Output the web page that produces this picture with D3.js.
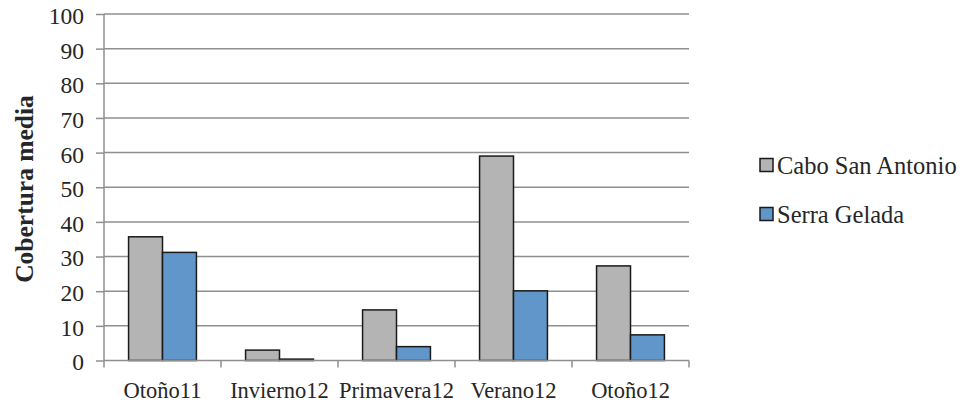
<!DOCTYPE html>
<html>
<head>
<meta charset="utf-8">
<script src="https://cdn.jsdelivr.net/npm/d3@7/dist/d3.min.js"></script>
<style>
  html, body { margin: 0; padding: 0; background: #fff; }
  svg { display: block; }
</style>
</head>
<body>
<svg id="chart" width="972" height="405"></svg>
<script>
// Seasonal sampling periods
const categories = ["Otoño11", "Invierno12", "Primavera12", "Verano12", "Otoño12"];
const seriesNames = ["Cabo San Antonio", "Serra Gelada"];
// Mean cover per period for each site
const caboSanAntonio = [35.7, 3.0, 14.6, 59.0, 27.3];
const serraGelada = [31.2, 0.4, 4.0, 20.1, 7.4];
const yTicks = [0, 10, 20, 30, 40, 50, 60, 70, 80, 90, 100];
const yTitle = "Cobertura media";

const seriesValues = [caboSanAntonio, serraGelada];
const colors = ["#b4b4b4", "#6196ca"];
const FONT = "'Liberation Serif', 'Times New Roman', 'DejaVu Serif', serif";
const TEXT_COLOR = "#262626";

const svg = d3.select("#chart");
const margin = { left: 104, right: 283, top: 14, bottom: 44.5 };
const W = 972, H = 405;
const plotW = W - margin.left - margin.right;
const plotH = H - margin.top - margin.bottom;

const g = svg.append("g").attr("transform", `translate(${margin.left},${margin.top})`);

const x = d3.scaleBand().domain(categories).range([0, plotW])
  .paddingInner(0.42).paddingOuter(0.21);
const xs = d3.scaleBand().domain(seriesNames).range([0, x.bandwidth()]);
const y = d3.scaleLinear().domain([0, 100]).range([plotH, 0]);

// horizontal gridlines
g.append("g").selectAll("line").data(yTicks.filter(d => d > 0)).join("line")
  .attr("x1", 0).attr("x2", plotW)
  .attr("y1", d => y(d)).attr("y2", d => y(d))
  .attr("stroke", "#8f8f8f").attr("stroke-width", 1.5);

// y axis
const yAxis = g.append("g").call(d3.axisLeft(y).tickValues(yTicks).tickSize(8).tickPadding(12));
yAxis.attr("font-family", null).attr("font-size", null);
yAxis.select(".domain").attr("stroke", "#8f8f8f").attr("stroke-width", 1.5).attr("d", `M0,${plotH}V0`);
yAxis.selectAll(".tick line").attr("stroke", "#8f8f8f").attr("stroke-width", 1.5);
yAxis.selectAll(".tick text")
  .attr("dy", "0.4em")
  .style("font-family", FONT).style("font-size", "23.5px").attr("fill", TEXT_COLOR);

// bars
const groups = g.append("g").selectAll("g").data(categories).join("g")
  .attr("transform", d => `translate(${x(d)},0)`);
groups.selectAll("rect")
  .data((c, i) => seriesNames.map((s, k) => ({ s, k, v: seriesValues[k][i] })))
  .join("rect")
  .attr("x", d => xs(d.s))
  .attr("width", xs.bandwidth())
  .attr("y", d => y(d.v))
  .attr("height", d => plotH - y(d.v))
  .attr("fill", d => colors[d.k])
  .attr("stroke", "#1a1a1a").attr("stroke-width", 1.5);

// x axis with ticks at category boundaries
const xAxisG = g.append("g").attr("transform", `translate(0,${plotH})`);
xAxisG.append("line").attr("x1", 0).attr("x2", plotW).attr("y1", 0).attr("y2", 0)
  .attr("stroke", "#8f8f8f").attr("stroke-width", 1.5);
const step = x.step();
xAxisG.selectAll("line.bt").data(d3.range(categories.length + 1)).join("line")
  .attr("class", "bt")
  .attr("x1", i => i * step).attr("x2", i => i * step)
  .attr("y1", 0).attr("y2", 7)
  .attr("stroke", "#8f8f8f").attr("stroke-width", 1.5);
xAxisG.selectAll("text").data(categories).join("text")
  .attr("x", d => x(d) + x.bandwidth() / 2)
  .attr("y", 37.5)
  .attr("text-anchor", "middle")
  .attr("fill", TEXT_COLOR)
  .style("font-family", FONT).style("font-size", "22.5px")
  .text(d => d);

// y axis title
svg.append("text")
  .attr("transform", `translate(33,189) rotate(-90)`)
  .attr("text-anchor", "middle")
  .attr("fill", TEXT_COLOR)
  .style("font-family", FONT).style("font-size", "25.5px").style("font-weight", "bold")
  .text(yTitle);

// legend
const legend = svg.append("g").attr("transform", "translate(760,158.5)");
const li = legend.selectAll("g").data(seriesNames).join("g")
  .attr("transform", (d, i) => `translate(0,${i * 49})`);
li.append("rect").attr("width", 13).attr("height", 13)
  .attr("fill", (d, i) => colors[i]).attr("stroke", "#1a1a1a").attr("stroke-width", 1.5);
li.append("text").attr("x", 17).attr("y", 7).attr("dy", "0.35em")
  .attr("fill", TEXT_COLOR)
  .style("font-family", FONT).style("font-size", "24.5px").text(d => d);
</script>
</body>
</html>
